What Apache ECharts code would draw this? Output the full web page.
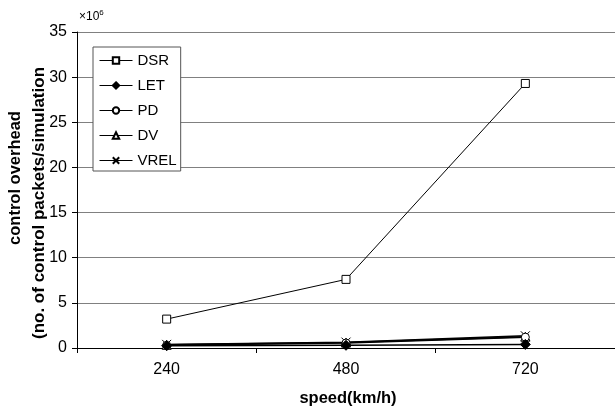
<!DOCTYPE html>
<html><head><meta charset="utf-8">
<script src="https://cdn.jsdelivr.net/npm/echarts@6/dist/echarts.min.js"></script>
<style>html,body{margin:0;padding:0;background:#fff}#c{width:615px;height:410px}</style>
</head><body><div id="c"></div>
<script>
const categories = ['240', '480', '720'];
const seriesNames = ['DSR', 'LET', 'PD', 'DV', 'VREL'];
const DSR = [3.2, 7.6, 29.3];
const LET = [0.25, 0.3, 0.4];
const PD = [0.3, 0.55, 1.2];
const DV = [0.35, 0.6, 1.25];
const VREL = [0.4, 0.65, 1.35];
const yTicks = [0, 5, 10, 15, 20, 25, 30, 35];

const values = [DSR, LET, PD, DV, VREL];
const symbols = ['rect', 'diamond', 'circle', 'triangle', 'path://M0,0L10,10M10,0L0,10'];
const sizes = [8, 10, 8, 9, 9];
const fills = ['#fff', '#000', '#fff', '#fff', '#fff'];
const font = 'Arial, "Liberation Sans", sans-serif';

const chart = echarts.init(document.getElementById('c'));
chart.setOption({
  animation: false,
  backgroundColor: '#fff',
  grid: { left: 77, right: -2, top: 32, bottom: 62, containLabel: false },
  legend: {
    orient: 'vertical', left: 93, top: 47,
    data: seriesNames,
    backgroundColor: '#fff',
    borderColor: '#555', borderWidth: 1, borderRadius: 0,
    padding: [6, 4, 3, 6],
    itemWidth: 33, itemHeight: 8, itemGap: 10,
    lineStyle: { width: 1 },
    textStyle: { fontFamily: font, fontSize: 15, color: '#000', padding: [0, 0, 0, 0] }
  },
  xAxis: {
    type: 'category', data: categories, boundaryGap: true,
    axisLine: { lineStyle: { color: '#000', width: 1 } },
    axisTick: { show: true, length: 5, lineStyle: { color: '#000' } },
    axisLabel: { fontFamily: font, fontSize: 16, color: '#000', margin: 14 }
  },
  yAxis: {
    type: 'value', min: 0, max: 35, interval: 5,
    axisLine: { show: true, lineStyle: { color: '#000', width: 1 } },
    axisTick: { show: true, length: 5, lineStyle: { color: '#000' } },
    axisLabel: { fontFamily: font, fontSize: 16, color: '#000', margin: 10 },
    splitLine: { lineStyle: { color: '#808080', width: 1 } }
  },
  series: seriesNames.map((n, i) => ({
    name: n, type: 'line', data: values[i],
    symbol: symbols[i], symbolSize: sizes[i], showAllSymbol: true,
    lineStyle: { color: '#000', width: i === 0 ? 1 : 1.5 },
    itemStyle: { color: fills[i], borderColor: '#000', borderWidth: 1 },
    z: 10 - i
  })),
  graphic: [
    { type: 'text', left: 79, top: 9,
      style: { rich: { a: { fontFamily: font, fontSize: 12, fill: '#000' }, s: { fontFamily: font, fontSize: 8, fill: '#000', verticalAlign: 'top', padding: [0,0,7,0] } },
        text: '{a|×10}{s|6}' } },
    { type: 'text', x: 15, y: 178, rotation: Math.PI / 2,
      style: { text: 'control overhead', fontFamily: font, fontSize: 16.5, fontWeight: 'bold', fill: '#000', align: 'center', verticalAlign: 'middle' } },
    { type: 'text', x: 39, y: 203, rotation: Math.PI / 2,
      style: { text: '(no. of control packets/simulation', fontFamily: font, fontSize: 17, fontWeight: 'bold', fill: '#000', align: 'center', verticalAlign: 'middle' } },
    { type: 'text', x: 348, y: 398,
      style: { text: 'speed(km/h)', fontFamily: font, fontSize: 16.5, fontWeight: 'bold', fill: '#000', align: 'center', verticalAlign: 'middle' } }
  ]
});
</script></body></html>
